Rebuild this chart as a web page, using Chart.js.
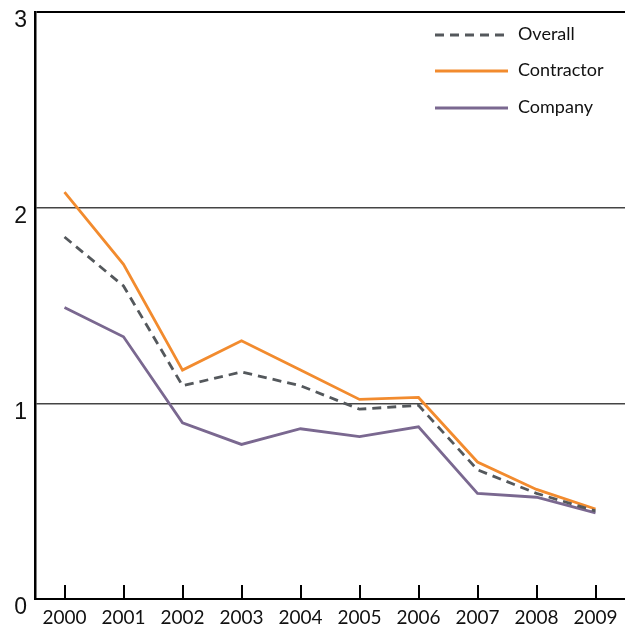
<!DOCTYPE html>
<html>
<head>
<meta charset="utf-8">
<script src="https://cdn.jsdelivr.net/npm/chart.js@4.4.1/dist/chart.umd.min.js"></script>
<style>
html,body{margin:0;padding:0;background:#fff;}
#wrap{width:625px;height:626px;}
</style>
</head>
<body>
<div id="wrap"><canvas id="c" width="625" height="626"></canvas></div>
<script>
const years = ['2000','2001','2002','2003','2004','2005','2006','2007','2008','2009'];
const overall = [1.85, 1.60, 1.09, 1.16, 1.09, 0.97, 0.99, 0.66, 0.54, 0.45];
const contractor = [2.08, 1.71, 1.17, 1.32, 1.17, 1.02, 1.03, 0.70, 0.56, 0.46];
const company = [1.49, 1.34, 0.90, 0.79, 0.87, 0.83, 0.88, 0.54, 0.52, 0.44];
const yTicks = [0, 1, 2, 3];

const xTickMarks = {
  id: 'xTickMarks',
  afterDraw(chart) {
    const x = chart.scales.x, ctx = chart.ctx;
    const yb = chart.chartArea.bottom;
    ctx.save();
    ctx.strokeStyle = '#000';
    ctx.lineWidth = 2;
    x.ticks.forEach((t, i) => {
      const px = Math.round(x.getPixelForTick(i));
      ctx.beginPath();
      ctx.moveTo(px, yb);
      ctx.lineTo(px, yb - 14);
      ctx.stroke();
    });
    ctx.restore();
  }
};

const customLegend = {
  id: 'customLegend',
  afterDraw(chart) {
    const ctx = chart.ctx;
    const x0 = 435, x1 = 508, tx = 518;
    const rows = [35, 71, 108];
    ctx.save();
    chart.data.datasets.forEach((ds, i) => {
      const y = rows[i];
      ctx.beginPath();
      ctx.strokeStyle = ds.borderColor;
      ctx.lineWidth = ds.borderWidth;
      ctx.setLineDash(ds.borderDash || []);
      ctx.moveTo(x0, y);
      ctx.lineTo(x1, y);
      ctx.stroke();
      ctx.setLineDash([]);
      ctx.fillStyle = '#111';
      ctx.font = '18px Lato';
      ctx.textBaseline = 'middle';
      ctx.textAlign = 'left';
      ctx.fillText(ds.label, tx, y - 1);
    });
    ctx.restore();
  }
};

new Chart(document.getElementById('c'), {
  type: 'line',
  data: {
    labels: years,
    datasets: [
      { label: 'Overall', data: overall, borderColor: '#54585c', borderWidth: 2.8, borderDash: [9, 6], pointRadius: 0, tension: 0, fill: false },
      { label: 'Contractor', data: contractor, borderColor: '#F28B2E', borderWidth: 2.8, pointRadius: 0, tension: 0, fill: false },
      { label: 'Company', data: company, borderColor: '#7A6890', borderWidth: 2.8, pointRadius: 0, tension: 0, fill: false }
    ]
  },
  options: {
    responsive: false,
    animation: false,
    layout: { padding: { top: 12, left: 0, right: 0, bottom: 0 } },
    plugins: { legend: { display: false }, tooltip: { enabled: false } },
    scales: {
      x: {
        offset: true,
        grid: { display: false, drawTicks: false },
        border: { display: true, color: '#000', width: 2 },
        ticks: { color: '#111', font: { family: 'Lato', size: 19 }, padding: 7, maxRotation: 0, autoSkip: false },
        afterFit(s) { s.height = 27; s.paddingLeft = 0; s.paddingRight = 0; }
      },
      y: {
        min: 0, max: 3,
        afterBuildTicks(s) { s.ticks = yTicks.map(v => ({ value: v })); },
        grid: {
          drawTicks: false,
          color: ctx => (ctx.tick && ctx.tick.value === 3) ? '#000' : (ctx.tick && ctx.tick.value === 0 ? 'rgba(0,0,0,0)' : '#444'),
          lineWidth: ctx => (ctx.tick && ctx.tick.value === 3) ? 2 : 1.5
        },
        border: { display: true, color: '#000', width: 2.5 },
        ticks: { color: '#111', font: { family: 'Liberation Sans', size: 23 }, padding: 8, labelOffset: 9 },
        afterFit(s) { s.width = 35; s.paddingTop = 0; s.paddingBottom = 0; }
      }
    }
  },
  plugins: [xTickMarks, customLegend]
});
</script>
</body>
</html>
